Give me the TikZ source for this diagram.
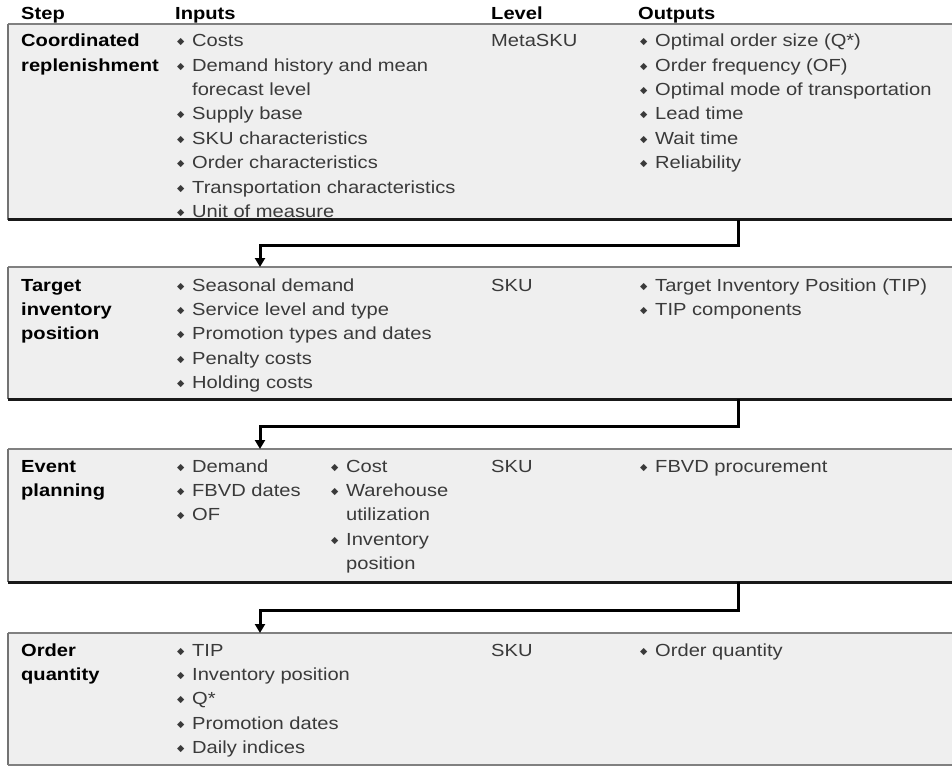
\documentclass[tikz,border=0pt]{standalone}
\usepackage{fontspec}
\setmainfont[FakeStretch=1.15]{Liberation Sans}
\newfontfamily\symff{DejaVu Sans}
\usetikzlibrary{arrows.meta,calc}

\definecolor{boxfill}{HTML}{EFEFEF}
\definecolor{rulegray}{HTML}{808080}
\definecolor{bodytext}{HTML}{3A3A3A}

\newcommand\bodysize{\fontsize{17.5}{24.4}\selectfont}
% diamond bullet with a fixed-width slot, and the matching indent for wrapped lines
\newcommand\bul{\makebox[15pt][l]{\raisebox{2.0pt}{\symff\fontsize{9.5}{9.5}\selectfont ◆}}}
\newcommand\cont{\hspace*{15pt}}

\begin{document}
\begin{tikzpicture}[x=1pt,y=-1pt,
  stepbox/.style={fill=boxfill, draw=none, inner sep=0pt, outer sep=0pt,
                  anchor=north west, minimum width=952pt},
  topline/.style={draw=rulegray, line width=1.6pt},
  sideline/.style={draw=rulegray!90!black, line width=1.5pt},
  baseline/.style={draw=black!90, line width=3pt},
  endline/.style={draw=rulegray, line width=1.4pt},
  hdr/.style={anchor=base west, inner sep=0pt, font=\bodysize\bfseries, text=black},
  stepname/.style={anchor=north west, inner sep=0pt, align=left,
                   font=\bodysize\bfseries, text=black},
  col/.style={anchor=north west, inner sep=0pt, align=left,
              font=\bodysize, text=bodytext},
  conn/.style={draw=black, line width=3pt, line join=miter,
               -{Triangle[width=10pt,length=9pt]}}
]
\useasboundingbox[fill=white] (0,0) rectangle (952,767);

% ---- column headings ----
\node[hdr] (hstep) at (21,20) {Step};
\node[hdr] (hin)   at (175,20) {Inputs};
\node[hdr] (hlev)  at (491,20) {Level};
\node[hdr] (hout)  at (638,20) {Outputs};

% ---- step panels ----
\node[stepbox, minimum height=196pt] (box1) at (8,24) {};
\node[stepbox, minimum height=132pt] (box2) at (8,267) {};
\node[stepbox, minimum height=133pt] (box3) at (8,449) {};
\node[stepbox, minimum height=132pt] (box4) at (8,633) {};

% ---- step 1: coordinated replenishment ----
\node[stepname] (s1) at (21,29.4) {\strut Coordinated\\replenishment};
\node[col] (i1) at (177,29.4) {\strut\bul Costs\\
  \bul Demand history and mean\\
  \cont forecast level\\
  \bul Supply base\\
  \bul SKU characteristics\\
  \bul Order characteristics\\
  \bul Transportation characteristics\\
  \bul Unit of measure};
\node[col] (l1) at (491,29.4) {\strut MetaSKU};
\node[col] (o1) at (640,29.4) {\strut\bul Optimal order size (Q*)\\
  \bul Order frequency (OF)\\
  \bul Optimal mode of transportation\\
  \bul Lead time\\
  \bul Wait time\\
  \bul Reliability};

% ---- step 2: target inventory position ----
\node[stepname] (s2) at (21,273.9) {\strut Target\\inventory\\position};
\node[col] (i2) at (177,273.9) {\strut\bul Seasonal demand\\
  \bul Service level and type\\
  \bul Promotion types and dates\\
  \bul Penalty costs\\
  \bul Holding costs};
\node[col] (l2) at (491,273.9) {\strut SKU};
\node[col] (o2) at (640,273.9) {\strut\bul Target Inventory Position (TIP)\\
  \bul TIP components};

% ---- step 3: event planning ----
\node[stepname] (s3) at (21,454.9) {\strut Event\\planning};
\node[col] (i3a) at (177,454.9) {\strut\bul Demand\\
  \bul FBVD dates\\
  \bul OF};
\node[col] (i3b) at (331,454.9) {\strut\bul Cost\\
  \bul Warehouse\\
  \cont utilization\\
  \bul Inventory\\
  \cont position};
\node[col] (l3) at (491,454.9) {\strut SKU};
\node[col] (o3) at (640,454.9) {\strut\bul FBVD procurement};

% ---- step 4: order quantity ----
\node[stepname] (s4) at (21,638.9) {\strut Order\\quantity};
\node[col] (i4) at (177,638.9) {\strut\bul TIP\\
  \bul Inventory position\\
  \bul Q*\\
  \bul Promotion dates\\
  \bul Daily indices};
\node[col] (l4) at (491,638.9) {\strut SKU};
\node[col] (o4) at (640,638.9) {\strut\bul Order quantity};

% ---- panel rules ----
\foreach \b in {box1,box2,box3,box4}{
  \draw[topline]  (\b.north west) -- (\b.north east);
  \draw[sideline] (\b.north west) -- (\b.south west);
}
\foreach \b in {box1,box2,box3}{
  \draw[baseline] (\b.south west) -- (\b.south east);
}
\draw[endline] (box4.south west) -- (box4.south east);

% ---- flow connectors between steps ----
\coordinate (cR) at (738,0);
\coordinate (cL) at (260,0);
\coordinate (m1) at ($(box1.south)!0.55!(box2.north)$);
\coordinate (m2) at ($(box2.south)!0.55!(box3.north)$);
\coordinate (m3) at ($(box3.south)!0.55!(box4.north)$);
\draw[conn] (box1.south -| cR) -- (m1 -| cR) -| (box2.north -| cL);
\draw[conn] (box2.south -| cR) -- (m2 -| cR) -| (box3.north -| cL);
\draw[conn] (box3.south -| cR) -- (m3 -| cR) -| (box4.north -| cL);
\end{tikzpicture}
\end{document}
